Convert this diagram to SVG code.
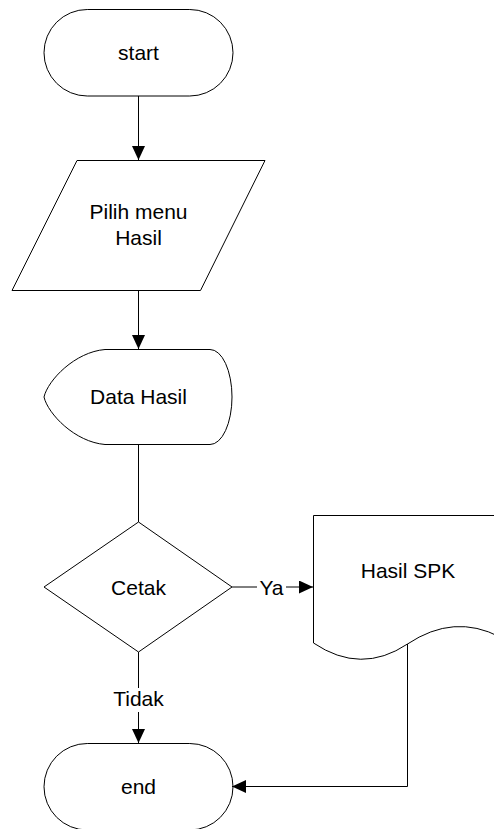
<svg xmlns="http://www.w3.org/2000/svg" width="494" height="829" viewBox="0 0 494 829">
<style>
.s{fill:#fff;stroke:#000;stroke-width:1}
.t{font-family:"Liberation Sans",Arial,sans-serif;font-size:21px;fill:#000;text-anchor:middle}
.c{fill:none;stroke:#000;stroke-width:1}
</style>
<defs>
<marker id="ah" markerUnits="userSpaceOnUse" markerWidth="14" markerHeight="13" refX="14" refY="6.5" orient="auto">
<path d="M0,0 L14,6.5 L0,13 Z" fill="#000"/>
</marker>
</defs>
<rect width="494" height="829" fill="#fff"/>
<g id="start">
<rect class="s" x="44" y="9.5" width="189" height="86.5" rx="43.25"/>
<text class="t" x="138.5" y="60">start</text>
</g>
<g id="pilih">
<path class="s" d="M77,160.5 H265 L200.5,290.5 H12 Z"/>
<text class="t" x="138.5" y="218.5">Pilih menu</text>
<text class="t" x="138.5" y="245">Hasil</text>
</g>
<g id="data">
<path class="s" d="M105,349.5 H210 A22,47.5 0 0 1 210,444.5 H105 C75,442 48,414 44,397 C48,380 75,352 105,349.5 Z"/>
<text class="t" x="138.5" y="404">Data Hasil</text>
</g>
<g id="cetak">
<path class="s" d="M138.5,522 L232,587 L138.5,652 L44,587 Z"/>
<text class="t" x="138.5" y="594.5">Cetak</text>
</g>
<g id="hasilspk">
<path class="s" d="M313.5,515.5 H500 V637 Q454,613 407.5,644 T313.5,643 Z"/>
<text class="t" x="408" y="578">Hasil SPK</text>
</g>
<g id="end">
<rect class="s" x="44" y="743.5" width="189" height="86.5" rx="43.25"/>
<text class="t" x="138.5" y="794">end</text>
</g>
<g id="connectors">
<path class="c" d="M138.5,96 V160" marker-end="url(#ah)"/>
<path class="c" d="M138.5,290.5 V349" marker-end="url(#ah)"/>
<path class="c" d="M138.5,444.5 V522"/>
<path class="c" d="M232,587 H257"/>
<path class="c" d="M286,587 H313" marker-end="url(#ah)"/>
<text class="t" x="271.5" y="594.5">Ya</text>
<path class="c" d="M138.5,652 V688"/>
<text class="t" x="138.5" y="705.5">Tidak</text>
<path class="c" d="M138.5,712 V743" marker-end="url(#ah)"/>
<path class="c" d="M407.5,644 V786.5 H232" marker-end="url(#ah)"/>
</g>
</svg>
